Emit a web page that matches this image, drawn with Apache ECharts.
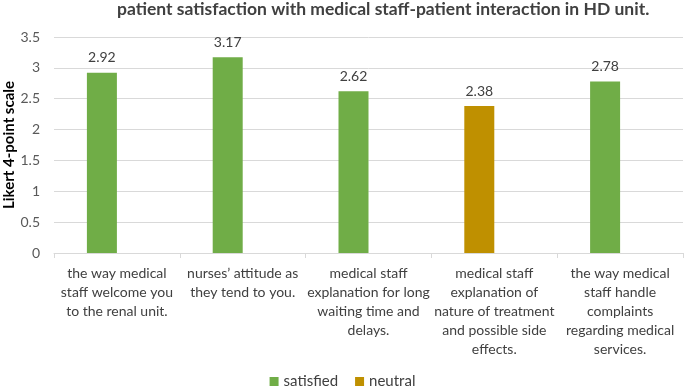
<!DOCTYPE html>
<html>
<head>
<meta charset="utf-8">
<script src="https://cdn.jsdelivr.net/npm/echarts@6/dist/echarts.min.js"></script>
<style>
  html, body { margin: 0; padding: 0; background: #fff; }
  #chart { width: 685px; height: 387px; }
</style>
</head>
<body>
<div id="chart"></div>
<script>
var categories = [
    "the way medical\nstaff welcome you\nto the renal unit.",
    "nurses\u2019 attitude as\nthey tend to you.",
    "medical staff\nexplanation for long\nwaiting time and\ndelays.",
    "medical staff\nexplanation of\nnature of treatment\nand possible side\neffects.",
    "the way medical\nstaff handle\ncomplaints\nregarding medical\nservices."
];
var satisfied = [2.92, 3.17, 2.62, null, 2.78];
var neutral = [null, null, null, 2.38, null];
var yTicks = { min: 0, max: 3.5, interval: 0.5 };

var font = "Lato, 'Open Sans', sans-serif";
var chart = echarts.init(document.getElementById('chart'), null, {renderer: 'canvas'});

var label = {
    show: true,
    position: 'top',
    distance: 8,
    color: '#404040',
    fontSize: 14,
    fontFamily: font,
    formatter: function (p) { return p.value.toFixed(2); }
};

var option = {
    animation: false,
    color: ['#70AD47', '#BF9000'],
    title: {
        text: 'patient satisfaction with medical staff-patient interaction in HD unit.',
        left: 112,
        top: -5,
        textStyle: { fontSize: 17.5, fontWeight: 'bold', color: '#404040', fontFamily: font }
    },
    legend: {
        data: ['satisfied', 'neutral'],
        bottom: -7,
        left: 'center',
        itemWidth: 9,
        itemHeight: 9,
        itemGap: 17,
        icon: 'rect',
        textStyle: { fontSize: 15, color: '#404040', fontFamily: font }
    },
    grid: { left: 54, right: 2, top: 37, bottom: 134, outerBoundsMode: 'none', containLabel: false },
    xAxis: {
        type: 'category',
        data: categories,
        axisLine: { lineStyle: { color: '#d9d9d9' } },
        axisTick: { show: true, length: 5, lineStyle: { color: '#d9d9d9' } },
        axisLabel: {
            interval: 0,
            margin: 11,
            fontSize: 14,
            lineHeight: 19,
            color: '#404040',
            fontFamily: font
        }
    },
    yAxis: {
        type: 'value',
        min: yTicks.min,
        max: yTicks.max,
        interval: yTicks.interval,
        name: 'Likert 4-point scale',
        nameLocation: 'middle',
        nameGap: 37,
        nameMoveOverlap: false,
        nameTextStyle: { fontSize: 15, fontWeight: 'bold', color: '#000', fontFamily: font },
        axisLine: { show: false },
        axisTick: { show: false },
        splitLine: { lineStyle: { color: '#d9d9d9' } },
        axisLabel: { margin: 14, fontSize: 14, color: '#595959', fontFamily: font }
    },
    series: [
        { name: 'satisfied', type: 'bar', stack: 'a', data: satisfied, barWidth: 30, barGap: '0%', label: label },
        { name: 'neutral', type: 'bar', stack: 'a', data: neutral, barWidth: 30, barGap: '0%', label: label },
        { name: 'spacer', type: 'bar', stack: 'b', data: [], barWidth: 30, barGap: '0%' }
    ]
};
chart.setOption(option);
</script>
</body>
</html>
